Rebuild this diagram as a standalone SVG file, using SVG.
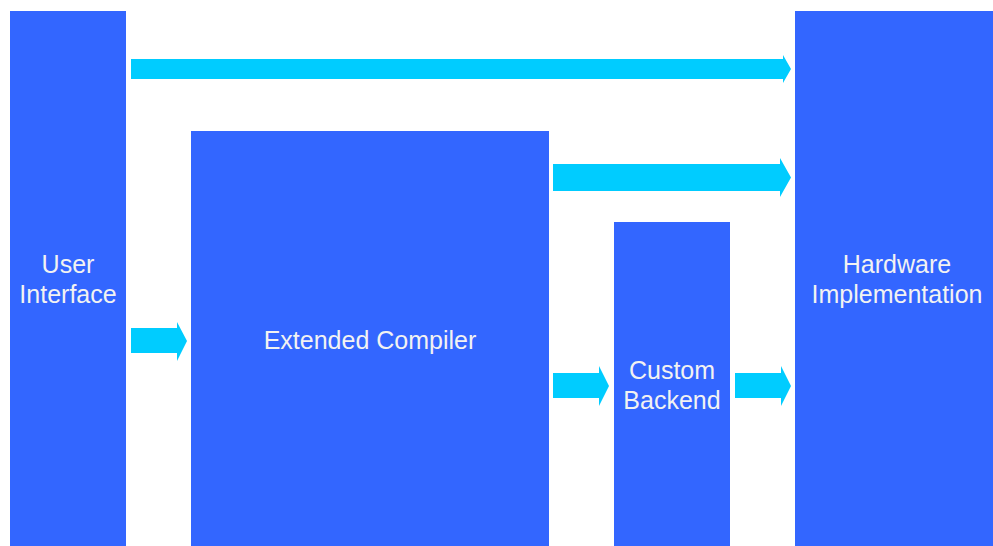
<svg xmlns="http://www.w3.org/2000/svg" width="993" height="546" viewBox="0 0 993 546">
  <style>
    .box { fill: #3366FF; }
    .arrow { fill: #00CCFF; }
    .label { fill: #F2F2F2; font-family: "Liberation Sans", Arial, sans-serif; font-size: 25px; text-anchor: middle; }
  </style>
  <rect width="993" height="546" fill="#FFFFFF"/>

  <g id="connectors">
    <!-- User Interface to Hardware Implementation -->
    <polygon class="arrow" points="131,59 783,59 783,55 791,69 783,83 783,79 131,79"/>
    <!-- Extended Compiler to Hardware Implementation -->
    <polygon class="arrow" points="553,164 780,164 780,158 791,177.5 780,197 780,191 553,191"/>
    <!-- User Interface to Extended Compiler -->
    <polygon class="arrow" points="131,328 177,328 177,322 187,341 177,361 177,353 131,353"/>
    <!-- Extended Compiler to Custom Backend -->
    <polygon class="arrow" points="553,373 599,373 599,366 609,386 599,406 599,398 553,398"/>
    <!-- Custom Backend to Hardware Implementation -->
    <polygon class="arrow" points="735,373 781,373 781,366 791,386 781,406 781,398 735,398"/>
  </g>

  <g id="user-interface">
    <rect class="box" x="10" y="11" width="116" height="535"/>
    <text class="label" x="68" y="273">User</text>
    <text class="label" x="68" y="303">Interface</text>
  </g>

  <g id="extended-compiler">
    <rect class="box" x="191" y="131" width="358" height="415"/>
    <text class="label" x="370" y="349">Extended Compiler</text>
  </g>

  <g id="custom-backend">
    <rect class="box" x="614" y="222" width="116" height="324"/>
    <text class="label" x="672" y="379">Custom</text>
    <text class="label" x="672" y="409">Backend</text>
  </g>

  <g id="hardware-implementation">
    <rect class="box" x="795" y="11" width="198" height="535"/>
    <text class="label" x="897" y="273">Hardware</text>
    <text class="label" x="897" y="303">Implementation</text>
  </g>
</svg>
